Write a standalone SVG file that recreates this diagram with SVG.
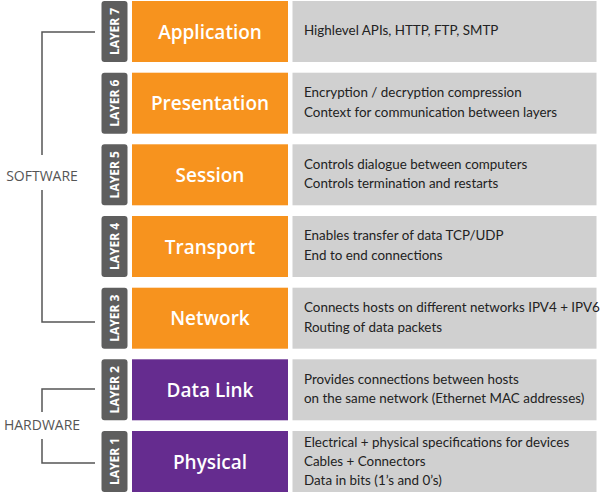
<svg xmlns="http://www.w3.org/2000/svg" width="600" height="493" viewBox="0 0 600 493">
  <style>
    .tab { fill: #5e5e5e; }
    .sw { fill: #f7931e; }
    .hw { fill: #652c8f; }
    .desc { fill: #d0d0d0; }
    .tabtxt { font-family: "Open Sans", sans-serif; font-weight: bold; font-size: 12px; fill: #ffffff; text-anchor: middle; }
    .name { font-family: "Open Sans", sans-serif; font-weight: 600; font-size: 19px; fill: #ffffff; text-anchor: middle; }
    .info { font-family: "Lato", sans-serif; font-size: 13.4px; fill: #222222; }
    .group { font-family: "Open Sans", sans-serif; font-size: 14px; fill: #555555; text-anchor: middle; }
    .bracket { fill: none; stroke: #555555; stroke-width: 1.5; }
  </style>

  <!-- bracket connectors grouping layers into software / hardware -->
  <g id="connectors">
    <polyline class="bracket" points="95,32 42,32 42,155"/>
    <polyline class="bracket" points="42,190 42,322 95,322"/>
    <polyline class="bracket" points="95,389 42,389 42,412"/>
    <polyline class="bracket" points="42,439 42,463 95,463"/>
    <text class="group" x="42" y="181">SOFTWARE</text>
    <text class="group" x="42" y="430">HARDWARE</text>
  </g>

  <g id="layer7">
    <rect class="tab" x="101.5" y="1" width="26" height="61" rx="3"/>
    <text class="tabtxt" transform="translate(118.5,31.5) rotate(-90)">LAYER 7</text>
    <rect class="sw" x="132" y="1" width="156" height="61"/>
    <text class="name" x="210" y="38.5">Application</text>
    <rect class="desc" x="292.5" y="1" width="304" height="61"/>
    <text class="info" x="304" y="35">Highlevel APIs, HTTP, FTP, SMTP</text>
  </g>

  <g id="layer6">
    <rect class="tab" x="101.5" y="72.7" width="26" height="61" rx="3"/>
    <text class="tabtxt" transform="translate(118.5,103.2) rotate(-90)">LAYER 6</text>
    <rect class="sw" x="132" y="72.7" width="156" height="61"/>
    <text class="name" x="210" y="110.2">Presentation</text>
    <rect class="desc" x="292.5" y="72.7" width="304" height="61"/>
    <text class="info" x="304" y="97">Encryption / decryption compression</text>
    <text class="info" x="304" y="116.7">Context for communication between layers</text>
  </g>

  <g id="layer5">
    <rect class="tab" x="101.5" y="144.3" width="26" height="61" rx="3"/>
    <text class="tabtxt" transform="translate(118.5,174.8) rotate(-90)">LAYER 5</text>
    <rect class="sw" x="132" y="144.3" width="156" height="61"/>
    <text class="name" x="210" y="181.8">Session</text>
    <rect class="desc" x="292.5" y="144.3" width="304" height="61"/>
    <text class="info" x="304" y="168.6">Controls dialogue between computers</text>
    <text class="info" x="304" y="188.3">Controls termination and restarts</text>
  </g>

  <g id="layer4">
    <rect class="tab" x="101.5" y="216" width="26" height="61" rx="3"/>
    <text class="tabtxt" transform="translate(118.5,246.5) rotate(-90)">LAYER 4</text>
    <rect class="sw" x="132" y="216" width="156" height="61"/>
    <text class="name" x="210" y="253.5">Transport</text>
    <rect class="desc" x="292.5" y="216" width="304" height="61"/>
    <text class="info" x="304" y="240.3">Enables transfer of data TCP/UDP</text>
    <text class="info" x="304" y="260">End to end connections</text>
  </g>

  <g id="layer3">
    <rect class="tab" x="101.5" y="287.7" width="26" height="61" rx="3"/>
    <text class="tabtxt" transform="translate(118.5,318.2) rotate(-90)">LAYER 3</text>
    <rect class="sw" x="132" y="287.7" width="156" height="61"/>
    <text class="name" x="210" y="325.2">Network</text>
    <rect class="desc" x="292.5" y="287.7" width="304" height="61"/>
    <text class="info" x="304" y="312">Connects hosts on different networks IPV4 + IPV6</text>
    <text class="info" x="304" y="331.7">Routing of data packets</text>
  </g>

  <g id="layer2">
    <rect class="tab" x="101.5" y="359.3" width="26" height="61" rx="3"/>
    <text class="tabtxt" transform="translate(118.5,389.8) rotate(-90)">LAYER 2</text>
    <rect class="hw" x="132" y="359.3" width="156" height="61"/>
    <text class="name" x="210" y="396.8">Data Link</text>
    <rect class="desc" x="292.5" y="359.3" width="304" height="61"/>
    <text class="info" x="304" y="384">Provides connections between hosts</text>
    <text class="info" x="304" y="402.5">on the same network (Ethernet MAC addresses)</text>
  </g>

  <g id="layer1">
    <rect class="tab" x="101.5" y="431" width="26" height="61" rx="3"/>
    <text class="tabtxt" transform="translate(118.5,461.5) rotate(-90)">LAYER 1</text>
    <rect class="hw" x="132" y="431" width="156" height="61"/>
    <text class="name" x="210" y="468.5">Physical</text>
    <rect class="desc" x="292.5" y="431" width="304" height="61"/>
    <text class="info" x="304" y="446.7">Electrical + physical specifications for devices</text>
    <text class="info" x="304" y="465.7">Cables + Connectors</text>
    <text class="info" x="304" y="484.5">Data in bits (1’s and 0’s)</text>
  </g>
</svg>
